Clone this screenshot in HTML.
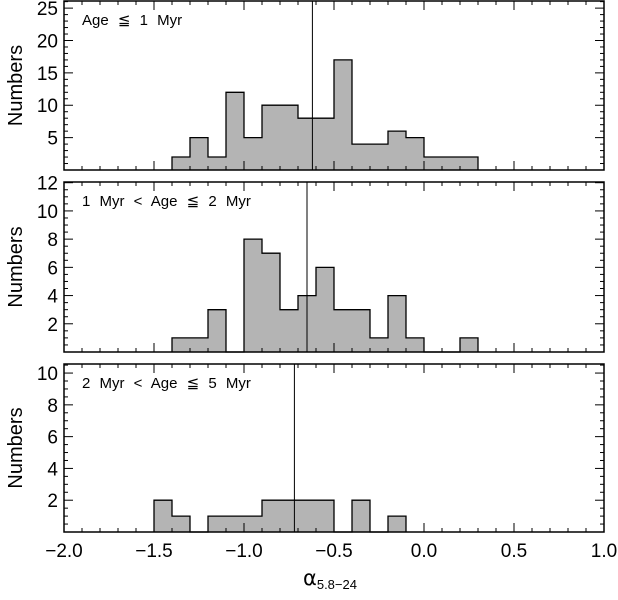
<!DOCTYPE html>
<html><head><meta charset="utf-8"><style>
html,body{margin:0;padding:0;background:#fff;}
svg text{font-family:"Liberation Sans","DejaVu Sans",sans-serif;fill:#000;}
</style></head><body>
<svg id="chart" width="618" height="595" xmlns="http://www.w3.org/2000/svg"></svg>
<script>
// Data
const binStart = -1.4;
const binWidth = 0.1;
const countsAge1 = [2,5,2,12,5,10,10,8,8,17,4,4,6,5,2,2,2];
const countsAge2 = [1,1,3,0,8,7,3,4,6,3,3,1,4,1,0,0,1];
const binStart3 = -1.5;
const countsAge5 = [2,1,0,1,1,1,2,2,2,2,0,2,0,1];
const medians = [-0.62, -0.65, -0.72];
const panelLabels = ["Age \u2266 1 Myr","1 Myr < Age \u2266 2 Myr","2 Myr < Age \u2266 5 Myr"];
const xTicks = [-2.0,-1.5,-1.0,-0.5,0.0,0.5,1.0];
const xTickLabels = ["\u22122.0","\u22121.5","\u22121.0","\u22120.5","0.0","0.5","1.0"];
const yTicks1 = [5,10,15,20,25];
const yTicks2 = [2,4,6,8,10,12];
const yTicks3 = [2,4,6,8,10];

const svg = document.getElementById('chart');
const NS = 'http://www.w3.org/2000/svg';
const X0 = 64, X1 = 604, XMIN = -2, XMAX = 1;
const xs = v => X0 + (v - XMIN) / (XMAX - XMIN) * (X1 - X0);

function mk(tag, attrs, parent){
  const e = document.createElementNS(NS, tag);
  for (const k in attrs) e.setAttribute(k, attrs[k]);
  (parent||svg).appendChild(e);
  return e;
}

const panels = [
  {top:1, bottom:170, ymax:26.1, counts:countsAge1, start:binStart, ticks:yTicks1, minor:1, name:'age-le-1'},
  {top:182, bottom:352, ymax:12.05, counts:countsAge2, start:binStart, ticks:yTicks2, minor:0.5, name:'age-1-2'},
  {top:364, bottom:532, ymax:10.57, counts:countsAge5, start:binStart3, ticks:yTicks3, minor:0.5, name:'age-2-5'}
];

panels.forEach((p, pi) => {
  const ys = v => p.bottom - v / p.ymax * (p.bottom - p.top);
  const g = mk('g', {});
  
  
  let pts = [[xs(p.start), ys(0)]];
  p.counts.forEach((c, i) => {
    const xa = xs(p.start + i * binWidth), xb = xs(p.start + (i + 1) * binWidth);
    pts.push([xa, ys(c)]); pts.push([xb, ys(c)]);
  });
  pts.push([xs(p.start + p.counts.length * binWidth), ys(0)]);
  const d = 'M' + pts.map(q => q[0].toFixed(1) + ',' + q[1].toFixed(1)).join(' L');
  const fill = mk('path', {d: d + ' Z', fill:'#b4b4b4', stroke:'none'}, g);
  
  
  const outline = mk('path', {d: d, fill:'none', stroke:'#000', 'stroke-width':1.3}, g);
  
  
  const med = mk('line', {x1:xs(medians[pi]), x2:xs(medians[pi]), y1:p.top, y2:p.bottom, stroke:'#000', 'stroke-width':1}, g);
  
  
  const fr = mk('rect', {x:X0, y:p.top, width:X1-X0, height:p.bottom-p.top, fill:'none', stroke:'#000', 'stroke-width':1.5}, g);
  
  
  for (let k = 0; k <= 30; k++) {
    const v = XMIN + k * 0.1, x = xs(v);
    const len = (k % 5 === 0) ? 9 : 4;
    mk('line', {x1:x, x2:x, y1:p.bottom, y2:p.bottom - len, stroke:'#000'}, g);
    mk('line', {x1:x, x2:x, y1:p.top, y2:p.top + len, stroke:'#000'}, g);
  }
  const nMinor = Math.floor(p.ymax / p.minor);
  for (let k = 1; k <= nMinor; k++) {
    const v = k * p.minor, y = ys(v);
    const major = p.ticks.some(t => Math.abs(t - v) < 1e-6);
    const len = major ? 9 : 4;
    mk('line', {x1:X0, x2:X0 + len, y1:y, y2:y, stroke:'#000'}, g);
    mk('line', {x1:X1, x2:X1 - len, y1:y, y2:y, stroke:'#000'}, g);
  }
  p.ticks.forEach(t => {
    const tl = mk('text', {x:X0 - 6, y:ys(t) + 7, 'text-anchor':'end', 'font-size':19}, g);
    
    
    tl.textContent = t;
  });
  const lab = mk('text', {x:82, y:p.top + 24, 'font-size':15, 'word-spacing':'5px', 'xml:space':'preserve'}, g);
  
  
  lab.textContent = panelLabels[pi];
  const cy = (p.top + p.bottom) / 2;
  const yt = mk('text', {x:0, y:0, transform:'translate(22,' + cy + ') rotate(-90)', 'text-anchor':'middle', 'font-size':20}, g);
  
  
  yt.textContent = 'Numbers';
});

xTicks.forEach((t, i) => {
  const tx = mk('text', {x:xs(t), y:557, 'text-anchor':'middle', 'font-size':19});
  
  
  tx.textContent = xTickLabels[i];
});
const xt = mk('text', {x:303, y:585, 'font-size':21});


xt.innerHTML = '<tspan font-family="DejaVu Sans">\u03B1</tspan><tspan font-size="13" dy="4">5.8\u221224</tspan>';
</script>
</body></html>
